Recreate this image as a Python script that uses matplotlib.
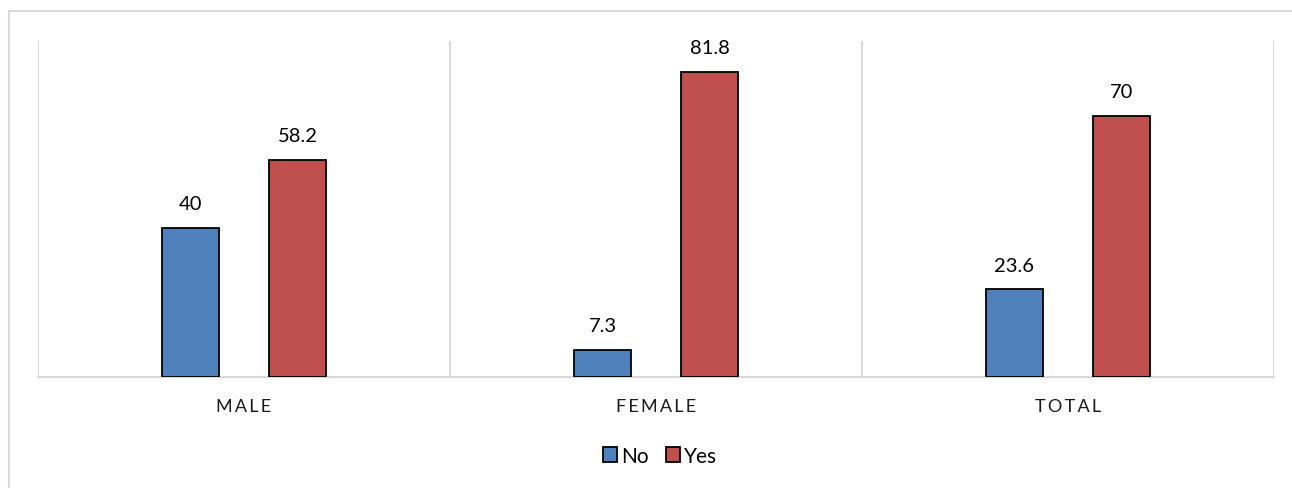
import numpy as np
import matplotlib
matplotlib.use('Agg')
import matplotlib.pyplot as plt
from matplotlib.patches import Rectangle

# Chart data
categories = ['MALE', 'FEMALE', 'TOTAL']
no_values = [40, 7.3, 23.6]
yes_values = [58.2, 81.8, 70]
no_labels = ['40', '7.3', '23.6']
yes_labels = ['58.2', '81.8', '70']

plt.rcParams['font.family'] = ['Lato', 'DejaVu Sans']

fig = plt.figure(figsize=(12.92, 4.89), dpi=100)
ax = fig.add_axes([38 / 1292, 1 - 378 / 489, (1274 - 38) / 1292, (378 - 42) / 489])

x = np.arange(len(categories))
width = 0.138
offset = 0.13

bars_no = ax.bar(x - offset, no_values, width, color='#4F81BD', edgecolor='black',
                 linewidth=1.3, label='No', zorder=3)
bars_yes = ax.bar(x + offset, yes_values, width, color='#C0504D', edgecolor='black',
                  linewidth=1.3, label='Yes', zorder=3)

for rect, lab in zip(bars_no, no_labels):
    ax.annotate(lab, (rect.get_x() + rect.get_width() / 2, rect.get_height()),
                xytext=(0, 11), textcoords='offset points', ha='center', va='bottom',
                fontsize=14.5, color='black')
for rect, lab in zip(bars_yes, yes_labels):
    ax.annotate(lab, (rect.get_x() + rect.get_width() / 2, rect.get_height()),
                xytext=(0, 11), textcoords='offset points', ha='center', va='bottom',
                fontsize=14.5, color='black')

ax.set_xlim(-0.5, len(categories) - 0.5)
ax.set_ylim(0, 90)

# category separators
for b in np.arange(len(categories) + 1) - 0.5:
    ax.axvline(b, color='#D9D9D9', linewidth=1.5, zorder=1)

ax.set_yticks([])
ax.set_xticks(x)
ax.set_xticklabels(['\u2009'.join(c) for c in categories], fontsize=13, color='#1a1a1a')
ax.tick_params(axis='x', length=0, pad=15)
for side in ['top', 'left', 'right']:
    ax.spines[side].set_visible(False)
ax.spines['bottom'].set_color('#D9D9D9')
ax.spines['bottom'].set_linewidth(1.5)

fig.legend(loc='center', bbox_to_anchor=(660 / 1292, 1 - 457 / 489), ncol=2, frameon=False,
           fontsize=15, handlelength=0.7, handleheight=0.7, handletextpad=0.2,
           columnspacing=0.8)

# outer chart border
fig.patches.append(Rectangle((9 / 1292, -0.1), 1.2, 1 - 12 / 489 + 0.1, transform=fig.transFigure,
                             fill=False, edgecolor='#D9D9D9', linewidth=1.5))

fig.savefig('out.png', dpi=100)
